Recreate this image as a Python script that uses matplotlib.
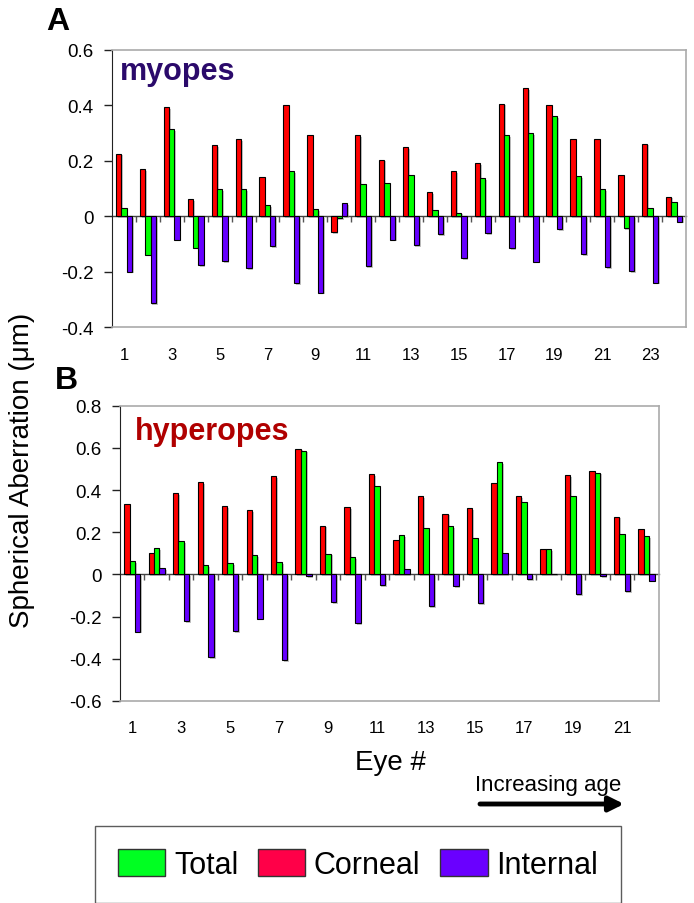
import numpy as np
import matplotlib
matplotlib.use('Agg')
import matplotlib.pyplot as plt
import matplotlib.patheffects as pe
from matplotlib.patches import Patch

plt.rcParams['font.family'] = ['Liberation Sans', 'DejaVu Sans']

# spherical aberration values (um)
corneal_myopes = [0.226, 0.170, 0.394, 0.061, 0.257, 0.277, 0.143, 0.402, 0.293, -0.058,
                  0.293, 0.204, 0.249, 0.086, 0.162, 0.192, 0.405, 0.461, 0.401, 0.277,
                  0.277, 0.148, 0.262, 0.070]
total_myopes = [0.030, -0.138, 0.313, -0.113, 0.098, 0.098, 0.040, 0.162, 0.025, -0.006,
                0.118, 0.120, 0.149, 0.024, 0.013, 0.137, 0.293, 0.299, 0.360, 0.145,
                0.098, -0.042, 0.028, 0.053]
internal_myopes = [-0.200, -0.312, -0.084, -0.175, -0.161, -0.186, -0.108, -0.241, -0.275, 0.048,
                   -0.180, -0.084, -0.104, -0.065, -0.152, -0.060, -0.114, -0.163, -0.047, -0.136,
                   -0.184, -0.197, -0.239, -0.020]

corneal_hyper = [0.335, 0.101, 0.384, 0.438, 0.324, 0.305, 0.465, 0.596, 0.231, 0.318,
                 0.476, 0.165, 0.372, 0.288, 0.315, 0.432, 0.372, 0.119, 0.471, 0.490,
                 0.274, 0.217]
total_hyper = [0.063, 0.125, 0.158, 0.044, 0.052, 0.092, 0.057, 0.587, 0.098, 0.082,
               0.418, 0.185, 0.218, 0.229, 0.174, 0.532, 0.343, 0.119, 0.372, 0.483,
               0.191, 0.182]
internal_hyper = [-0.271, 0.030, -0.221, -0.391, -0.269, -0.210, -0.405, -0.008, -0.130, -0.231,
                  -0.052, 0.025, -0.150, -0.055, -0.136, 0.104, -0.022, 0.003, -0.092, -0.008,
                  -0.078, -0.030]

bar_colors = {'Corneal': '#ff0000', 'Total': '#00ff00', 'Internal': '#6600ff'}
legend_colors = {'Total': '#00ff22', 'Corneal': '#ff0048', 'Internal': '#6a00ff'}

W, H = 694, 904
fig = plt.figure(figsize=(W / 100, H / 100), dpi=100)


def fx(px):
    return px / W


def fy(py):
    return 1 - py / H


def panel(rect, corneal, total, internal, ylim, yticks):
    ax = fig.add_axes(rect)
    n = len(corneal)
    x = np.arange(1, n + 1)
    w = 0.222
    shadow = [pe.SimplePatchShadow(offset=(1.2, -1.2), shadow_rgbFace='#888888', alpha=0.5), pe.Normal()]
    for off, vals, key in [(-w, corneal, 'Corneal'), (0, total, 'Total'), (w, internal, 'Internal')]:
        bars = ax.bar(x + off, vals, width=w, color=bar_colors[key], edgecolor='black',
                      linewidth=0.8, zorder=3)
        for b in bars:
            b.set_path_effects(shadow)
    ax.set_xlim(0.5, n + 0.5)
    ax.set_ylim(*ylim)
    ax.set_yticks(yticks)
    ax.set_yticklabels(['0' if abs(t) < 1e-9 else f'{t:.1f}' for t in yticks])
    ax.set_xticks(x[::2])
    ax.set_xticklabels([str(i) for i in x[::2]])
    ax.tick_params(axis='x', length=0, pad=14, labelsize=12)
    ax.tick_params(axis='y', direction='out', length=5.5, width=1, pad=8, labelsize=13.5,
                   color='#222222')
    for s in ['top', 'right', 'bottom']:
        ax.spines[s].set_color('#aaaaaa')
        ax.spines[s].set_linewidth(1.2)
    ax.spines['left'].set_color('#222222')
    # category axis crossing at zero, with ticks between categories
    zero_pos = (0 - ylim[0]) / (ylim[1] - ylim[0])
    sec = ax.secondary_xaxis(zero_pos)
    sec.set_xticks(np.arange(1.5, n + 0.5, 1))
    sec.tick_params(axis='x', length=4, width=1, color='#555555', labelbottom=False)
    sec.spines['bottom'].set_color('#444444')
    sec.spines['bottom'].set_linewidth(1)
    return ax


ax1 = panel([fx(112), fy(328.3), fx(686) - fx(112), fy(50.7) - fy(328.3)],
            corneal_myopes, total_myopes, internal_myopes, (-0.4, 0.6),
            [-0.4, -0.2, 0, 0.2, 0.4, 0.6])
ax2 = panel([fx(120), fy(702), fx(658.7) - fx(120), fy(406.7) - fy(702)],
            corneal_hyper, total_hyper, internal_hyper, (-0.6, 0.8),
            [-0.6, -0.4, -0.2, 0, 0.2, 0.4, 0.6, 0.8])

fig.text(fx(58), fy(22), 'A', fontsize=23, fontweight='bold', ha='center', va='center')
fig.text(fx(66), fy(381), 'B', fontsize=23, fontweight='bold', ha='center', va='center')
fig.text(fx(120), fy(80), 'myopes', fontsize=22, fontweight='bold', color='#2b0a6b',
         ha='left', va='baseline')
fig.text(fx(135), fy(440), 'hyperopes', fontsize=22, fontweight='bold', color='#b00000',
         ha='left', va='baseline')

fig.text(fx(22), fy(470), 'Spherical Aberration (\u03bcm)', fontsize=20, rotation=90,
         ha='center', va='center')
fig.text(fx(390), fy(763), 'Eye #', fontsize=20, ha='center', va='center')
fig.text(fx(548), fy(785), 'Increasing age', fontsize=16, ha='center', va='center')
fig.add_artist(plt.Annotation('', xy=(fx(624), fy(805)), xytext=(fx(480), fy(805)),
                              xycoords='figure fraction', textcoords='figure fraction',
                              arrowprops=dict(arrowstyle='-|>', lw=3.5, color='black',
                                              mutation_scale=22, shrinkA=0, shrinkB=0)))

handles = [Patch(facecolor=legend_colors[k], edgecolor='#333333', linewidth=1, label=k)
           for k in ['Total', 'Corneal', 'Internal']]
leg = fig.legend(handles=handles, loc='upper center', bbox_to_anchor=(fx(358), fy(827)),
                 ncol=3, fontsize=22, frameon=True, fancybox=False, borderpad=0.75,
                 borderaxespad=0, handlelength=1.55, handleheight=1.0, handletextpad=0.28,
                 columnspacing=0.65)
leg.get_frame().set_edgecolor('#333333')
leg.get_frame().set_linewidth(1)

fig.savefig('out.png', dpi=100)
